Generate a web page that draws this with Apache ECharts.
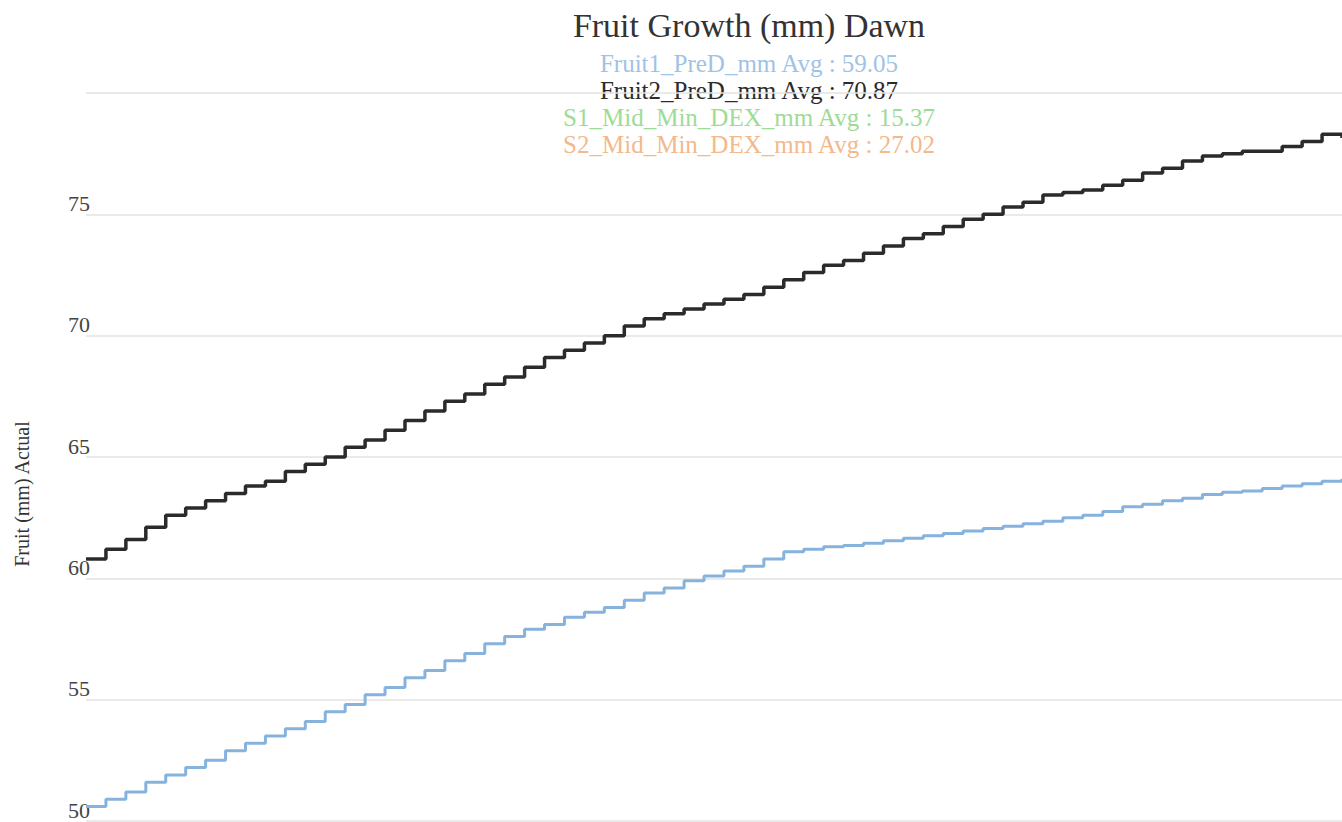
<!DOCTYPE html>
<html>
<head>
<meta charset="utf-8">
<title>Fruit Growth (mm) Dawn</title>
<script src="https://cdn.jsdelivr.net/npm/echarts@6/dist/echarts.min.js"></script>
<style>
  html, body { margin: 0; padding: 0; background: #fff; }
  #chart { width: 1342px; height: 822px; }
</style>
</head>
<body>
<div id="chart"></div>
<script>
// daily dawn readings (mm)
const fruit1 = [
  50.6, 50.9, 51.2, 51.6, 51.9, 52.2, 52.5, 52.9, 53.2, 53.5,
  53.8, 54.1, 54.5, 54.8, 55.2, 55.5, 55.9, 56.2, 56.6, 56.9,
  57.3, 57.6, 57.9, 58.1, 58.4, 58.6, 58.8, 59.1, 59.4, 59.6,
  59.9, 60.1, 60.3, 60.5, 60.8, 61.1, 61.2, 61.3, 61.35, 61.45,
  61.55, 61.65, 61.75, 61.85, 61.95, 62.05, 62.15, 62.25, 62.35, 62.5,
  62.6, 62.75, 62.95, 63.05, 63.2, 63.3, 63.45, 63.55, 63.6, 63.7,
  63.8, 63.9, 64.0, 64.1
];
const fruit2 = [
  60.8, 61.2, 61.6, 62.1, 62.6, 62.9, 63.2, 63.5, 63.8, 64.0,
  64.4, 64.7, 65.0, 65.4, 65.7, 66.1, 66.5, 66.9, 67.3, 67.6,
  68.0, 68.3, 68.7, 69.1, 69.4, 69.7, 70.0, 70.4, 70.7, 70.9,
  71.1, 71.3, 71.5, 71.7, 72.0, 72.3, 72.6, 72.9, 73.1, 73.4,
  73.7, 74.0, 74.2, 74.5, 74.8, 75.0, 75.3, 75.5, 75.8, 75.9,
  76.0, 76.2, 76.4, 76.7, 76.9, 77.2, 77.4, 77.5, 77.6, 77.6,
  77.8, 78.0, 78.3, 78.15
];
const days = fruit2.map((_, i) => 'Day ' + (i + 1));

const legendNames = ['Fruit1_PreD_mm', 'Fruit2_PreD_mm', 'S1_Mid_Min_DEX_mm', 'S2_Mid_Min_DEX_mm'];
const legendAvgs = ['59.05', '70.87', '15.37', '27.02'];
const legendColors = ['#9fc3e6', '#2b2b2b', '#9ddc94', '#f3b98c'];

const yTicks = [50, 55, 60, 65, 70, 75, 80];

const serif = 'Liberation Serif';
const chart = echarts.init(document.getElementById('chart'), null, { renderer: 'svg' });

const graphics = [
  {
    type: 'text', x: 749, y: 25,
    style: { text: 'Fruit Growth (mm) Dawn', fill: '#333', fontFamily: serif, fontSize: 34, align: 'center', verticalAlign: 'middle' }
  },
  {
    type: 'text', x: 22, y: 494, rotation: Math.PI / 2,
    style: { text: 'Fruit (mm) Actual', fill: '#333', fontFamily: serif, fontSize: 20, align: 'center', verticalAlign: 'middle' }
  }
];
legendNames.forEach((name, i) => {
  graphics.push({
    type: 'text', x: 749, y: 63 + i * 27,
    style: { text: name + ' Avg : ' + legendAvgs[i], fill: legendColors[i], fontFamily: serif, fontSize: 25, align: 'center', verticalAlign: 'middle' }
  });
});

chart.setOption({
  animation: false,
  backgroundColor: '#fff',
  grid: { left: 86, right: 0, top: 93, bottom: 1, containLabel: false },
  xAxis: {
    type: 'category',
    data: days,
    boundaryGap: false,
    show: false
  },
  yAxis: {
    type: 'value',
    min: yTicks[0],
    max: yTicks[yTicks.length - 1],
    interval: 5,
    axisLine: { show: false },
    axisTick: { show: false },
    splitLine: { lineStyle: { color: '#e3e3e3', width: 1.5 } },
    axisLabel: {
      margin: -4,
      color: '#444',
      fontFamily: serif,
      fontSize: 22,
      verticalAlign: 'bottom',
      formatter: v => (v === 80 ? '' : String(v))
    }
  },
  graphic: graphics,
  series: [
    {
      name: 'Fruit1_PreD_mm',
      type: 'line',
      step: 'end',
      data: fruit1,
      symbol: 'none',
      lineStyle: { color: '#86b3de', width: 3 }
    },
    {
      name: 'Fruit2_PreD_mm',
      type: 'line',
      step: 'end',
      data: fruit2,
      symbol: 'none',
      lineStyle: { color: '#2b2b2b', width: 3.5 }
    }
  ]
});
</script>
</body>
</html>
